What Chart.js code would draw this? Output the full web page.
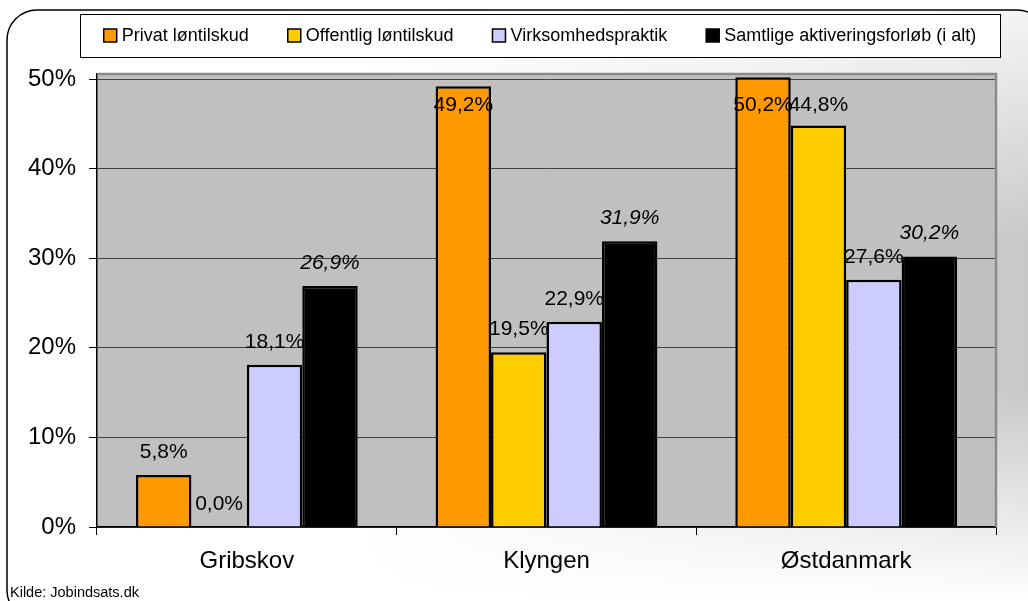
<!DOCTYPE html>
<html>
<head>
<meta charset="utf-8">
<script src="https://cdn.jsdelivr.net/npm/chart.js@4/dist/chart.umd.min.js"></script>
<style>
  html, body { margin: 0; padding: 0; background: #fff; }
  canvas { display: block; }
</style>
</head>
<body>
<canvas id="chart" width="1028" height="601"></canvas>
<script>
// DATOS
var kategorier = ['Gribskov', 'Klyngen', 'Østdanmark'];
var privat = [5.8, 49.2, 50.2];
var offentlig = [0.0, 19.5, 44.8];
var virksomhed = [18.1, 22.9, 27.6];
var samtlige = [26.9, 31.9, 30.2];
var serieNavne = ['Privat løntilskud', 'Offentlig løntilskud', 'Virksomhedspraktik', 'Samtlige aktiveringsforløb (i alt)'];
var serieFarver = ['#ff9900', '#ffcc00', '#ccccff', '#000000'];
var yTicks = [0, 10, 20, 30, 40, 50];
var kilde = 'Kilde: Jobindsats.dk';

var FONT = "'Liberation Sans', Arial, sans-serif";

function pct(v) {
    return v.toFixed(1).replace('.', ',') + '%';
}

// baggrund, ramme og plotområde
var baggrund = {
    id: 'baggrund',
    beforeDraw: function (chart) {
        var ctx = chart.ctx;
        var w = chart.width, h = chart.height;
        ctx.save();
        ctx.fillStyle = '#ffffff';
        ctx.fillRect(0, 0, w, h);
        // rundet ramme med gradient
        ctx.beginPath();
        ctx.roundRect(7, 10, 1040, 610, 30);
        var g = ctx.createLinearGradient(350, 0, w, 0);
        g.addColorStop(0, '#ffffff');
        g.addColorStop(1, '#c8c8c8');
        ctx.fillStyle = g;
        ctx.fill();
        var v = ctx.createLinearGradient(0, 0, 0, h);
        v.addColorStop(0, 'rgba(255,255,255,0.85)');
        v.addColorStop(0.4, 'rgba(255,255,255,0)');
        v.addColorStop(0.65, 'rgba(255,255,255,0)');
        v.addColorStop(1, 'rgba(255,255,255,1)');
        ctx.fillStyle = v;
        ctx.fill();
        ctx.lineWidth = 1.5;
        ctx.strokeStyle = '#000';
        ctx.stroke();
        // plotområde
        var a = chart.chartArea;
        ctx.fillStyle = '#c0c0c0';
        ctx.fillRect(a.left, a.top, a.right - a.left, a.bottom - a.top);
        ctx.restore();
    },
    beforeDatasetsDraw: function (chart) {
        var ctx = chart.ctx;
        var a = chart.chartArea;
        ctx.save();
        ctx.strokeStyle = '#8a8a8a';
        ctx.lineWidth = 2.5;
        ctx.beginPath();
        ctx.moveTo(a.left, a.top);
        ctx.lineTo(a.right, a.top);
        ctx.lineTo(a.right, a.bottom);
        ctx.stroke();
        ctx.restore();
    },
    afterDraw: function (chart) {
        var ctx = chart.ctx;
        ctx.save();
        // LEGENDE
        var bx = 80, by = 14, bw = 920, bh = 43;
        ctx.fillStyle = '#ffffff';
        ctx.fillRect(bx, by, bw, bh);
        ctx.strokeStyle = '#000';
        ctx.lineWidth = 1;
        ctx.strokeRect(bx + 0.5, by + 0.5, bw, bh);
        ctx.font = '18px ' + FONT;
        var gap = 39, sq = 13, tx = 5;
        var bredder = chart.data.datasets.map(function (d) { return sq + tx + ctx.measureText(d.label).width; });
        var total = bredder.reduce(function (s, b) { return s + b; }, 0) + gap * (bredder.length - 1);
        var x = bx + bw / 2 - total / 2;
        var cy = by + bh / 2;
        chart.data.datasets.forEach(function (d, i) {
            ctx.fillStyle = d.backgroundColor;
            ctx.fillRect(x, cy - sq / 2, sq, sq);
            ctx.strokeStyle = '#000';
            ctx.lineWidth = 1.5;
            ctx.strokeRect(x, cy - sq / 2, sq, sq);
            ctx.fillStyle = '#000';
            ctx.textBaseline = 'middle';
            ctx.textAlign = 'left';
            ctx.fillText(d.label, x + sq + tx, cy + 1);
            x += bredder[i] + gap;
        });
        // DATAETIKETTER
        var a = chart.chartArea;
        ctx.textAlign = 'center';
        ctx.textBaseline = 'middle';
        chart.data.datasets.forEach(function (d, i) {
            var meta = chart.getDatasetMeta(i);
            ctx.font = (i === 3 ? 'italic ' : '') + '21px ' + FONT;
            meta.data.forEach(function (bar, j) {
                var y = Math.max(bar.y - 23, a.top + 31);
                ctx.fillStyle = '#000';
                ctx.fillText(pct(d.data[j]), bar.x, y);
            });
        });
        // KILDE
        ctx.textAlign = 'left';
        ctx.textBaseline = 'alphabetic';
        ctx.font = '14.5px ' + FONT;
        ctx.fillStyle = '#000';
        ctx.fillText(kilde, 10, 597);
        ctx.restore();
    }
};

var datos = {
    labels: kategorier,
    datasets: [privat, offentlig, virksomhed, samtlige].map(function (serie, i) {
        return {
            label: serieNavne[i],
            data: serie,
            backgroundColor: serieFarver[i],
            borderColor: '#000000',
            borderWidth: 2.5,
            borderSkipped: 'start',
            categoryPercentage: 0.74,
            barPercentage: 1
        };
    })
};

var miGrafica = new Chart(document.getElementById('chart'), {
    type: 'bar',
    data: datos,
    plugins: [baggrund],
    options: {
        responsive: false,
        animation: false,
        layout: { padding: { top: 74, right: 32, left: 0, bottom: 0 } },
        plugins: {
            legend: { display: false },
            tooltip: { enabled: false }
        },
        scales: {
            x: {
                afterFit: function (s) { s.height = 74; },
                grid: {
                    offset: true,
                    drawOnChartArea: false,
                    tickLength: 8,
                    color: '#000',
                    lineWidth: 1
                },
                border: { color: '#000', width: 1.5 },
                ticks: {
                    color: '#000',
                    font: { family: FONT, size: 24 },
                    padding: 12
                }
            },
            y: {
                min: 0,
                max: 50.56,
                afterFit: function (s) { s.width = 97; },
                afterBuildTicks: function (s) {
                    s.ticks = yTicks.map(function (v) { return { value: v }; });
                },
                grid: {
                    color: '#404040',
                    lineWidth: 1,
                    tickLength: 8,
                    tickColor: '#000'
                },
                border: { color: '#000', width: 1.5 },
                ticks: {
                    color: '#000',
                    font: { family: FONT, size: 24 },
                    padding: 13,
                    callback: function (v) { return v + '%'; }
                }
            }
        }
    }
});
</script>
</body>
</html>
